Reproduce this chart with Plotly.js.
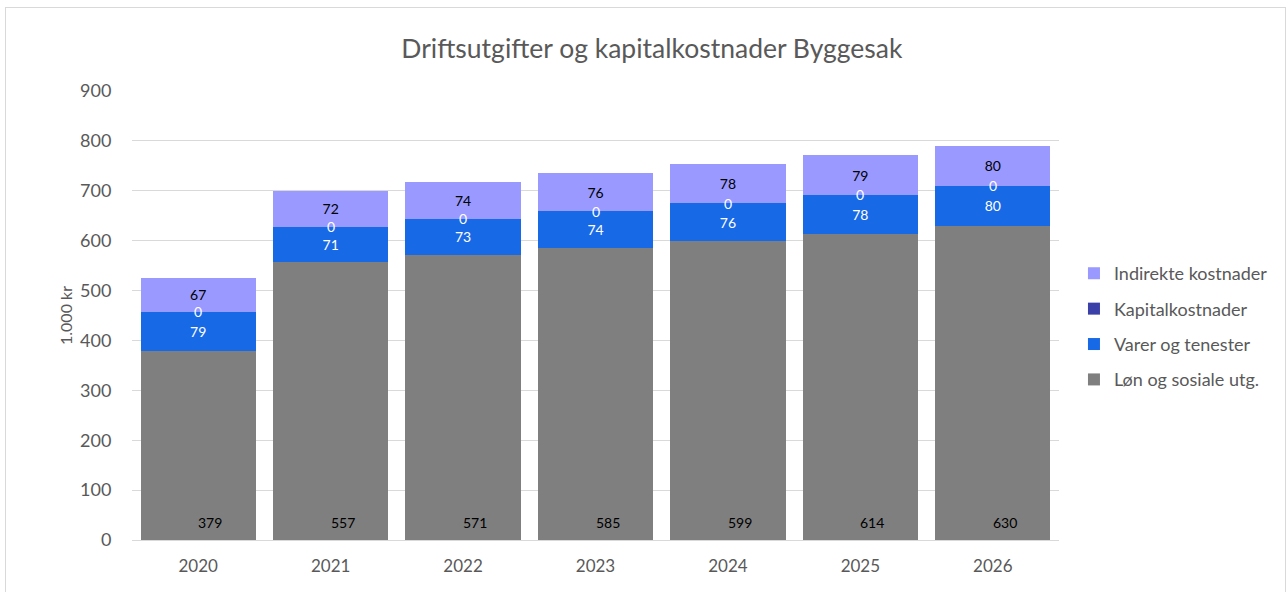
<!DOCTYPE html>
<html><head><meta charset="utf-8">
<script src="https://cdn.plot.ly/plotly-3.0.1.min.js"></script>
<style>
body{margin:0;background:#fff;}
#frame{position:absolute;left:5px;top:7px;width:1281px;height:586px;border:1px solid #d9d9d9;box-sizing:border-box;}
#chart{width:1279px;height:584px;}
</style></head>
<body><div id="frame"><div id="chart"></div></div>
<script>
const years = ['2020','2021','2022','2023','2024','2025','2026'];
const lon = [379,557,571,585,599,614,630];
const varer = [79,71,73,74,76,78,80];
const kapital = [0,0,0,0,0,0,0];
const indirekte = [67,72,74,76,78,79,80];
const names = ['Løn og sosiale utg.','Varer og tenester','Kapitalkostnader','Indirekte kostnader'];
const colors = ['#7f7f7f','#1769e6','#3b3fa8','#9999ff'];
const FONT = 'Lato, "Open Sans", sans-serif';

const series = [lon, varer, kapital, indirekte];
const traces = series.map((vals,i)=>({
  type:'bar', x:years, y:vals, name:names[i], legendgroup:'g'+i, legendrank:4-i,
  marker:{color:colors[i]},
  text: (i===1||i===3) ? vals.map(String) : undefined,
  textposition: (i===1||i===3) ? 'inside' : 'none',
  insidetextanchor:'middle',
  textfont:{family:FONT,size:14,color: i===1 ? '#ffffff' : '#000000'},
  hoverinfo:'x+y+name'
}));

const annotations = [];
years.forEach((yr,k)=>{
  annotations.push({x:k,y:0,xref:'x',yref:'y',text:String(lon[k]),showarrow:false,
    yanchor:'bottom',yshift:7,xshift:12,font:{family:FONT,size:14,color:'#000000'}});
  annotations.push({x:k,y:lon[k]+varer[k]+kapital[k],xref:'x',yref:'y',text:String(kapital[k]),showarrow:false,
    yanchor:'middle',font:{family:FONT,size:14,color:'#ffffff'}});
});

const layout = {
  width:1279, height:584,
  margin:{l:126,r:226,t:83,b:52},
  paper_bgcolor:'#ffffff', plot_bgcolor:'#ffffff',
  barmode:'stack', bargap:0.13,
  title:{text:'Driftsutgifter og kapitalkostnader Byggesak',x:0.505,xanchor:'center',y:0.93,yanchor:'middle',
    font:{family:FONT,size:26.5,color:'#595959'}},
  xaxis:{type:'category',range:[-0.5,6.5],showline:true,linecolor:'#d9d9d9',linewidth:1,
    ticks:'outside',ticklen:11,tickcolor:'rgba(0,0,0,0)',
    tickfont:{family:FONT,size:17,color:'#595959'},showgrid:false,zeroline:false},
  yaxis:{range:[0,900],dtick:100,showgrid:true,gridcolor:'#d9d9d9',gridwidth:1,zeroline:false,showline:false,
    tickfont:{family:FONT,size:18,color:'#595959'},ticklen:16,tickcolor:'rgba(0,0,0,0)',ticks:'outside',
    title:{text:'1.000 kr',font:{family:FONT,size:16,color:'#595959'},standoff:3}},
  legend:{xref:'container',yref:'container',x:0.835,xanchor:'left',y:0.577,yanchor:'top',
    traceorder:'grouped',tracegroupgap:9,
    font:{family:FONT,size:18,color:'#595959'},itemwidth:30},
  annotations:annotations,
  showlegend:true
};
Plotly.newPlot('chart',traces,layout,{displayModeBar:false,responsive:false});
</script></body></html>
